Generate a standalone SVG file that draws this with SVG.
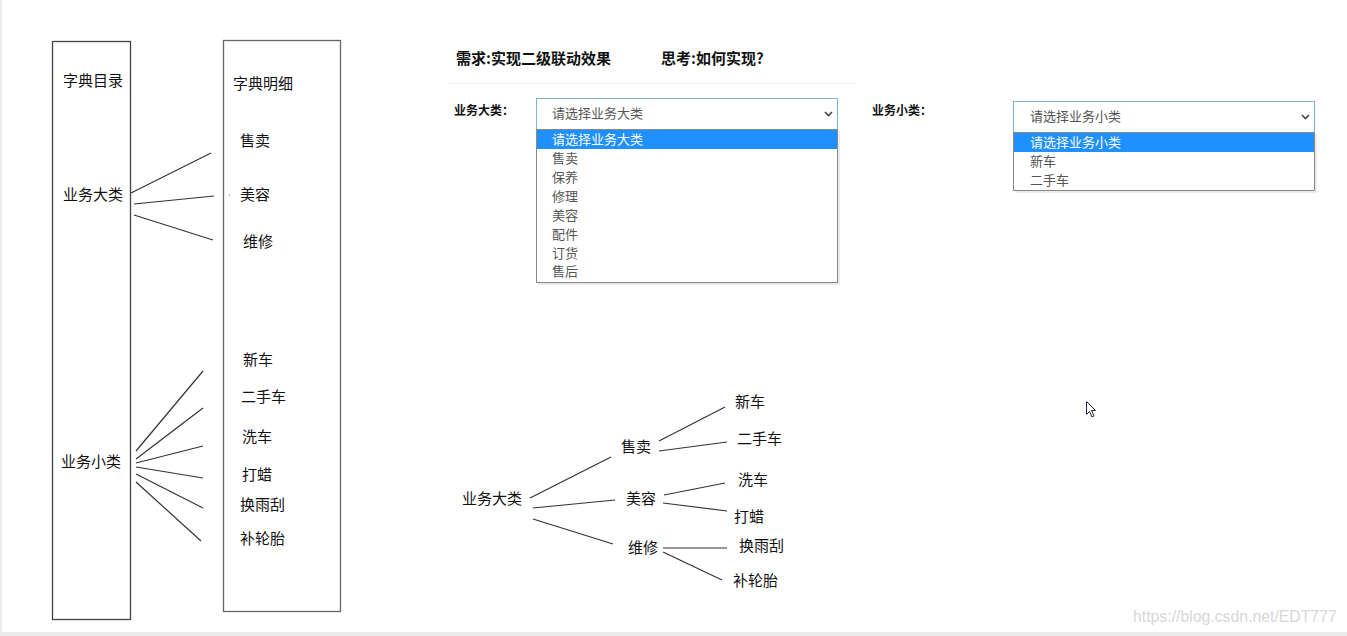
<svg xmlns="http://www.w3.org/2000/svg" width="1347" height="636" viewBox="0 0 1347 636">
<style>
.t{font-family:"Noto Sans CJK SC","Liberation Sans",sans-serif;font-size:15px;fill:#111;dominant-baseline:central}
.b{font-weight:bold}
.s{font-family:"Noto Sans CJK SC","Liberation Sans",sans-serif;font-size:13px;fill:#555;dominant-baseline:central}
.hl{fill:#fff}
.ln{stroke:#333;stroke-width:1.2;fill:none}
.box{fill:#fff;stroke:#444;stroke-width:1.3}
.sel{fill:#fff;stroke:#7eb4d8;stroke-width:1}
.dd{fill:#fff;stroke:#888;stroke-width:1}
</style>
<rect x="0" y="0" width="1347" height="636" fill="#fff"/>
<rect x="0" y="0" width="2" height="636" fill="#ececec"/>
<rect x="0" y="632" width="1347" height="4" fill="#ececec"/>

<g id="box-catalog">
<rect class="box" x="52.5" y="41.5" width="78" height="578"/>
<text class="t" x="63" y="79.5">字典目录</text>
<text class="t" x="63" y="193.5">业务大类</text>
<text class="t" x="61" y="460.5">业务小类</text>
</g>
<g id="box-detail">
<rect class="box" x="223.5" y="40.5" width="117" height="571" style="stroke:#666"/>
<text class="t" x="233" y="82.5">字典明细</text>
<text class="t" x="240" y="139.5">售卖</text>
<text class="t" x="240" y="193.5">美容</text>
<text class="t" x="243" y="240.5">维修</text>
<text class="t" x="243" y="358.5">新车</text>
<text class="t" x="241" y="395.5">二手车</text>
<text class="t" x="242" y="435.5">洗车</text>
<text class="t" x="242" y="473.5">打蜡</text>
<text class="t" x="240" y="503.5">换雨刮</text>
<text class="t" x="240" y="537.5">补轮胎</text>
<circle cx="229.5" cy="195" r="0.6" fill="#555"/>
</g>

<g id="header">
<text class="t b" x="456" y="57.5">需求:实现二级联动效果</text>
<text class="t b" x="661" y="57.5">思考:如何实现?</text>
<line x1="448" y1="83.5" x2="855" y2="83.5" stroke="#f2f2f2" stroke-width="1"/>
</g>

<g id="select-major">
<text class="t b" x="454" y="109.5" style="font-size:12px">业务大类：</text>
<rect x="538" y="131" width="302" height="154" fill="#000" opacity="0.08"/>
<rect class="sel" x="536.5" y="98.5" width="301" height="31"/>
<text class="s" x="552" y="112.5">请选择业务大类</text>
<path d="M825 112 L828.5 115.5 L832 112" fill="none" stroke="#444" stroke-width="1.6"/>
<rect class="dd" x="536.5" y="129.5" width="301" height="153"/>
<rect x="537" y="130" width="300" height="19" fill="#1e90ff"/>
<text class="s hl" x="552" y="138.5">请选择业务大类</text>
<text class="s" x="552" y="157.5">售卖</text>
<text class="s" x="552" y="176.5">保养</text>
<text class="s" x="552" y="195.5">修理</text>
<text class="s" x="552" y="214.5">美容</text>
<text class="s" x="552" y="233.5">配件</text>
<text class="s" x="552" y="252.5">订货</text>
<text class="s" x="552" y="270.5">售后</text>
</g>

<g id="select-minor">
<text class="t b" x="872" y="109.5" style="font-size:12px">业务小类：</text>
<rect x="1015" y="134" width="302" height="59" fill="#000" opacity="0.08"/>
<rect class="sel" x="1013.5" y="101.5" width="301" height="31"/>
<text class="s" x="1030" y="115.5">请选择业务小类</text>
<path d="M1302 115 L1305.5 118.5 L1309 115" fill="none" stroke="#444" stroke-width="1.6"/>
<rect class="dd" x="1013.5" y="132.5" width="301" height="58"/>
<rect x="1014" y="133" width="300" height="19" fill="#1e90ff"/>
<text class="s hl" x="1030" y="141.5">请选择业务小类</text>
<text class="s" x="1030" y="160.5">新车</text>
<text class="s" x="1030" y="179.5">二手车</text>
</g>

<g id="tree">
<text class="t" x="462" y="497.5">业务大类</text>
<text class="t" x="621" y="445.5">售卖</text>
<text class="t" x="626" y="497.5">美容</text>
<text class="t" x="628" y="546.5">维修</text>
<text class="t" x="735" y="400.5">新车</text>
<text class="t" x="737" y="437.5">二手车</text>
<text class="t" x="738" y="478.5">洗车</text>
<text class="t" x="734" y="515.5">打蜡</text>
<text class="t" x="739" y="544.5">换雨刮</text>
<text class="t" x="733" y="579.5">补轮胎</text>
</g>

<g id="connectors" class="ln">
<line x1="131" y1="193" x2="211" y2="153"/>
<line x1="134" y1="204" x2="214" y2="196"/>
<line x1="134" y1="215" x2="213" y2="240"/>
<line x1="136" y1="451" x2="203" y2="371"/>
<line x1="136" y1="459" x2="203" y2="408"/>
<line x1="136" y1="463" x2="203" y2="446"/>
<line x1="136" y1="467" x2="203" y2="478"/>
<line x1="136" y1="474" x2="203" y2="508"/>
<line x1="136" y1="482" x2="201" y2="541"/>
<line x1="530" y1="498" x2="611" y2="457"/>
<line x1="533" y1="508" x2="615" y2="500"/>
<line x1="533" y1="519" x2="613" y2="544"/>
<line x1="659" y1="441" x2="725" y2="407"/>
<line x1="659" y1="451" x2="727" y2="442"/>
<line x1="664" y1="495" x2="725" y2="483"/>
<line x1="663" y1="503" x2="727" y2="511"/>
<line x1="663" y1="548" x2="727" y2="548"/>
<line x1="663" y1="552" x2="722" y2="580"/>
</g>

<g id="cursor">
<path d="M1086.5 401.5 L1086.5 414.5 L1089.5 411.5 L1092 417 L1094 416 L1091.5 410.5 L1095.5 410.5 Z" fill="#fff" stroke="#223" stroke-width="1"/>
</g>
<text x="1133" y="616" style="font-family:'Liberation Sans',sans-serif;font-size:15.8px;fill:#d8d8d8;dominant-baseline:central">https://blog.csdn.net/EDT777</text>
</svg>
